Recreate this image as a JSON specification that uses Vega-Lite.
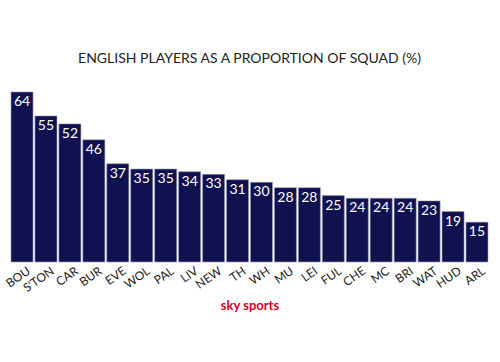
{
  "$schema": "https://vega.github.io/schema/vega-lite/v6.json",
  "width": 477,
  "height": 170,
  "autosize": {"type": "none"},
  "padding": {"left": 11, "right": 12, "top": 92, "bottom": 100},
  "background": "white",
  "title": {
    "text": "ENGLISH PLAYERS AS A PROPORTION OF SQUAD (%)",
    "font": "Lato",
    "fontSize": 14,
    "fontWeight": "normal",
    "color": "#222222",
    "anchor": "middle",
    "offset": 26
  },
  "data": {
    "values": [
      {"team": "BOU", "pct": 64},
      {"team": "S'TON", "pct": 55},
      {"team": "CAR", "pct": 52},
      {"team": "BUR", "pct": 46},
      {"team": "EVE", "pct": 37},
      {"team": "WOL", "pct": 35},
      {"team": "PAL", "pct": 35},
      {"team": "LIV", "pct": 34},
      {"team": "NEW", "pct": 33},
      {"team": "TH", "pct": 31},
      {"team": "WH", "pct": 30},
      {"team": "MU", "pct": 28},
      {"team": "LEI", "pct": 28},
      {"team": "FUL", "pct": 25},
      {"team": "CHE", "pct": 24},
      {"team": "MC", "pct": 24},
      {"team": "BRI", "pct": 24},
      {"team": "WAT", "pct": 23},
      {"team": "HUD", "pct": 19},
      {"team": "ARL", "pct": 15}
    ]
  },
  "encoding": {
    "x": {
      "field": "team",
      "type": "nominal",
      "sort": null,
      "scale": {"paddingInner": 0.08, "paddingOuter": 0},
      "axis": {
        "title": "sky sports",
        "titleFont": "Lato",
        "titleFontSize": 13,
        "titleFontWeight": "bold",
        "titleColor": "#d0021b",
        "titlePadding": 6,
        "labelAngle": -35,
        "labelAlign": "right",
        "labelBaseline": "top",
        "labelFont": "Lato",
        "labelFontSize": 12,
        "labelColor": "#222222",
        "labelPadding": 3,
        "labelOffset": 4,
        "ticks": false,
        "domain": false
      }
    },
    "y": {
      "field": "pct",
      "type": "quantitative",
      "scale": {"domain": [0, 64], "nice": false},
      "axis": null
    }
  },
  "layer": [
    {
      "mark": {"type": "bar", "color": "#10114f", "stroke": "#9a9ab8", "strokeWidth": 0.6}
    },
    {
      "mark": {
        "type": "text",
        "color": "white",
        "baseline": "top",
        "dy": 3,
        "font": "Lato",
        "fontSize": 14
      },
      "encoding": {"text": {"field": "pct", "type": "quantitative"}}
    }
  ],
  "config": {"view": {"stroke": null}}
}
